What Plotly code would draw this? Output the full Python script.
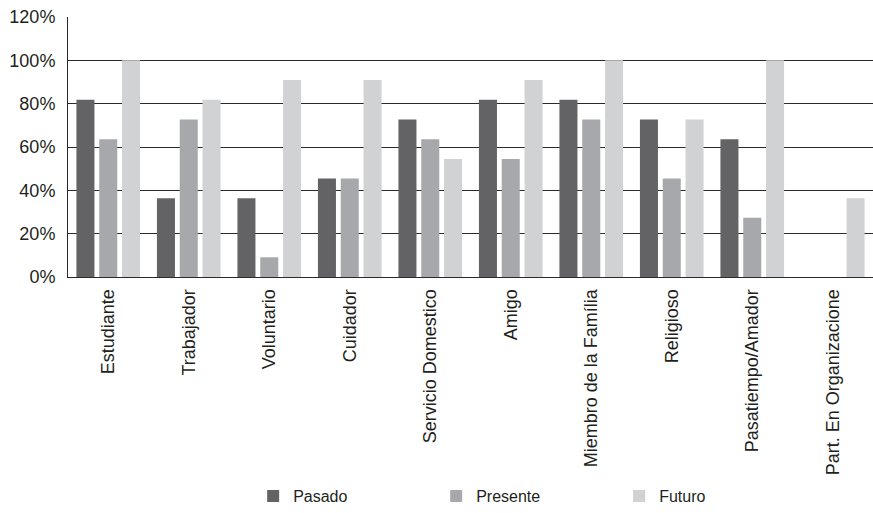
import plotly.graph_objects as go

categories = ["Estudiante", "Trabajador", "Voluntario", "Cuidador", "Servicio Domestico",
              "Amigo", "Miembro de la Família", "Religioso", "Pasatiempo/Amador",
              "Part. En Organizacione"]
pasado = [81.8, 36.4, 36.4, 45.5, 72.7, 81.8, 81.8, 72.7, 63.6, 0]
presente = [63.6, 72.7, 9.1, 45.5, 63.6, 54.5, 72.7, 45.5, 27.3, 0]
futuro = [100, 81.8, 90.9, 90.9, 54.5, 90.9, 100, 72.7, 100, 36.4]
series = [("Pasado", pasado, "#636365"), ("Presente", presente, "#a7a8ab"), ("Futuro", futuro, "#d1d2d4")]
yticks = [0, 20, 40, 60, 80, 100, 120]

fig = go.Figure()
for name, vals, col in series:
    fig.add_trace(go.Bar(x=categories, y=vals, name=name, marker_color=col, marker_line_width=0))

font = dict(family="Liberation Sans, Arial, sans-serif", color="#231f20")
fig.update_layout(
    width=873, height=513,
    margin=dict(l=68, r=0, t=17, b=234),
    paper_bgcolor="white", plot_bgcolor="white",
    barmode="group", bargap=0.15, bargroupgap=0.21,
    font=dict(**font, size=18),
    showlegend=True,
    legend=dict(orientation="h", x=0.23, xanchor="left", y=-0.845, yanchor="middle",
                entrywidth=138, entrywidthmode="pixels", font=dict(**font, size=16),
                itemsizing="constant", bgcolor="rgba(0,0,0,0)"),
    xaxis=dict(tickangle=-90, showline=True, linecolor="#2a2a2a", linewidth=1,
               ticks="", showgrid=False, tickfont=dict(**font, size=18), ticklabelstandoff=4),
    yaxis=dict(range=[0, 120], tickvals=yticks, ticktext=[f"{v}%" for v in yticks],
               showgrid=True, gridcolor="#2a2a2a", gridwidth=1, showline=True,
               linecolor="#2a2a2a", linewidth=1, ticks="", zeroline=False,
               tickfont=dict(**font, size=18), ticklabelstandoff=8),
)
fig.write_html("out.html")
